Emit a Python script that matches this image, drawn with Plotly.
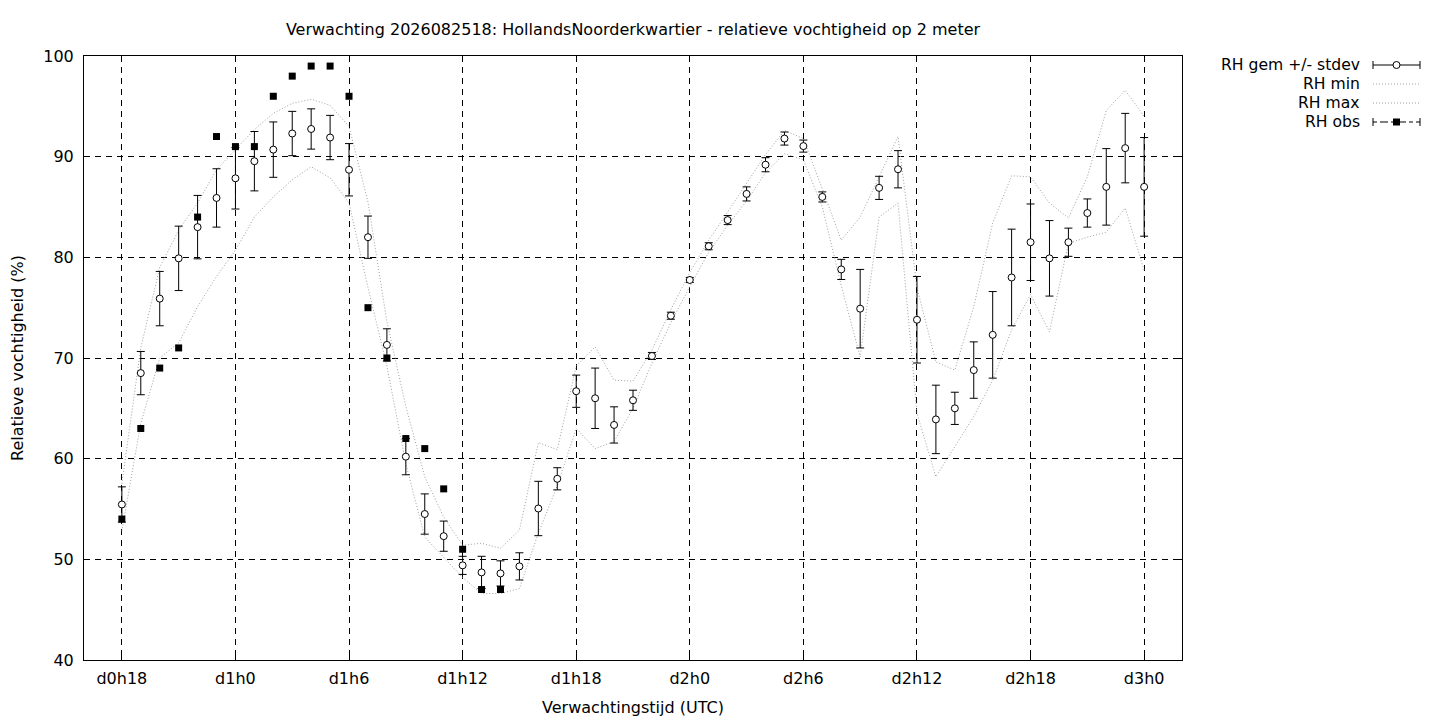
import plotly.graph_objects as go

hours = list(range(18, 73))

rh_mean = [55.45, 68.5, 75.9, 79.9, 83.0, 85.9, 87.85, 89.55, 90.7, 92.3,
           92.75, 91.9, 88.7, 82.0, 71.3, 60.2, 54.5, 52.3, 49.4, 48.7,
           48.6, 49.3, 55.05, 58.0, 66.7, 66.0, 63.35, 65.8, 70.2, 74.2,
           77.75, 81.1, 83.7, 86.3, 89.2, 91.8, 91.05, 86.0, 78.8, 74.9,
           86.9, 88.75, 73.8, 63.9, 65.0, 68.8, 72.3, 78.0, 81.5, 79.9,
           81.5, 84.4, 87.0, 90.85, 87.0]

rh_std = [1.75, 2.15, 2.7, 3.2, 3.15, 2.9, 3.05, 2.95, 2.75, 2.2,
          2.0, 2.2, 2.6, 2.1, 1.6, 1.8, 2.0, 1.5, 0.9, 1.6,
          1.25, 1.35, 2.7, 1.1, 1.6, 3.0, 1.8, 1.0, 0.35, 0.35,
          0.25, 0.35, 0.45, 0.7, 0.7, 0.65, 0.6, 0.5, 1.0, 3.9,
          1.15, 1.85, 4.3, 3.4, 1.6, 2.8, 4.3, 4.8, 3.8, 3.75,
          1.4, 1.4, 3.8, 3.45, 4.9]

rh_min = [52.8, 63.5, 70.0, 71.5, 75.1, 78.1, 80.7, 84.0, 86.0, 87.7,
          89.0, 87.9, 85.4, 77.0, 69.2, 59.5, 52.2, 50.2, 48.2, 46.6,
          46.6, 47.1, 52.6, 57.3, 63.0, 61.0, 61.7, 65.0, 69.5, 73.5,
          77.1, 80.5, 83.2, 85.6, 88.4, 90.3, 89.7, 85.0, 77.2, 70.1,
          84.0, 85.4, 64.5, 58.2, 61.2, 64.2, 67.8, 72.8, 76.3, 72.6,
          81.4, 82.0, 82.5, 84.9, 78.7]

rh_max = [57.5, 71.0, 79.0, 82.7, 85.4, 88.7, 90.7, 92.7, 94.3, 95.3,
          95.7, 95.1, 93.0, 85.5, 73.6, 65.2, 58.2, 54.2, 51.4, 51.6,
          51.1, 52.9, 61.6, 60.9, 69.2, 71.1, 67.8, 67.7, 70.8, 74.8,
          78.5, 81.7, 84.5, 87.3, 90.2, 92.6, 91.8, 86.8, 81.7, 84.0,
          88.0, 92.0, 77.0, 69.6, 68.8, 75.1, 83.4, 88.1, 88.0, 85.4,
          83.9, 88.0, 94.6, 96.6, 94.0]

obs_hours = list(range(18, 39))
rh_obs = [54, 63, 69, 71, 84, 92, 91, 91, 96, 98, 99, 99, 96, 75, 70, 62,
          61, 57, 51, 47, 47]

tick_vals = [18, 24, 30, 36, 42, 48, 54, 60, 66, 72]
tick_text = ["d0h18", "d1h0", "d1h6", "d1h12", "d1h18", "d2h0", "d2h6",
             "d2h12", "d2h18", "d3h0"]

legend_labels = ["RH gem +/- stdev", "RH min", "RH max", "RH obs"]

FONT = "DejaVu Sans"
FS = 16
GRAY = "#a0a0a0"
DOT = "1px,2px"

fig = go.Figure()

fig.add_trace(go.Scatter(x=hours, y=rh_min, mode="lines", name="RH min",
                         line=dict(color=GRAY, width=1, dash=DOT),
                         showlegend=False))
fig.add_trace(go.Scatter(x=hours, y=rh_max, mode="lines", name="RH max",
                         line=dict(color=GRAY, width=1, dash=DOT),
                         showlegend=False))
fig.add_trace(go.Scatter(x=hours, y=rh_mean, mode="markers",
                         name="RH gem +/- stdev",
                         marker=dict(symbol="circle", size=7, color="white",
                                     line=dict(color="black", width=1)),
                         error_y=dict(type="data", array=rh_std, visible=True,
                                      color="black", thickness=1, width=4),
                         showlegend=False))
fig.add_trace(go.Scatter(x=obs_hours, y=rh_obs, mode="markers",
                         name="RH obs",
                         marker=dict(symbol="square", size=7, color="black",
                                     line=dict(color="black", width=0)),
                         showlegend=False))

# page offset (body margin) of 8px
OFF = 8
L, R, B, T = 84, 1182, 660, 56   # target plot-area edges in the screenshot
W, H = R - L, B - T


def px(xp):
    return (xp - L) / W


def py(yp):
    return (B - yp) / H


rows_y = [65, 84, 103, 122]
x_text = 1362
x0s, x1s = 1373, 1420
xm = (x0s + x1s) / 2
shapes = []
annotations = []
for lab, yy in zip(legend_labels, rows_y):
    annotations.append(dict(x=px(x_text), y=py(yy), xref="paper", yref="paper",
                            text=lab, showarrow=False, xanchor="right",
                            yanchor="middle",
                            font=dict(family=FONT, size=15.6, color="black")))

y1 = rows_y[0]
shapes.append(dict(type="line", xref="paper", yref="paper", x0=px(x0s), x1=px(x1s),
                   y0=py(y1), y1=py(y1), line=dict(color="black", width=1)))
for xc in (x0s, x1s):
    shapes.append(dict(type="line", xref="paper", yref="paper", x0=px(xc), x1=px(xc),
                       y0=py(y1 - 4), y1=py(y1 + 4), line=dict(color="black", width=1)))
shapes.append(dict(type="circle", xref="paper", yref="paper",
                   x0=px(xm - 3.5), x1=px(xm + 3.5), y0=py(y1 + 3.5), y1=py(y1 - 3.5),
                   fillcolor="white", line=dict(color="black", width=1)))
for yy in rows_y[1:3]:
    shapes.append(dict(type="line", xref="paper", yref="paper", x0=px(x0s), x1=px(x1s),
                       y0=py(yy), y1=py(yy), line=dict(color=GRAY, width=1, dash=DOT)))
y4 = rows_y[3]
shapes.append(dict(type="line", xref="paper", yref="paper", x0=px(x0s), x1=px(x1s),
                   y0=py(y4), y1=py(y4), line=dict(color="black", width=1, dash="4px,3px,8px,3px")))
for xc in (x0s, x1s):
    shapes.append(dict(type="line", xref="paper", yref="paper", x0=px(xc), x1=px(xc),
                       y0=py(y4 - 4), y1=py(y4 + 4), line=dict(color="black", width=1)))
shapes.append(dict(type="rect", xref="paper", yref="paper",
                   x0=px(xm - 3.5), x1=px(xm + 3.5), y0=py(y4 + 3.5), y1=py(y4 - 3.5),
                   fillcolor="black", line=dict(color="black", width=0)))

axis_common = dict(showline=True, linecolor="black", linewidth=1, mirror="ticks",
                   ticks="inside", ticklen=6, tickcolor="black",
                   showgrid=True, gridcolor="black", gridwidth=1, griddash="6px,5px",
                   zeroline=False, automargin=False,
                   tickfont=dict(family=FONT, size=FS, color="black"))

fig.update_layout(
    width=1440, height=720,
    margin=dict(l=L - OFF, r=1440 - (R - OFF), t=T - OFF, b=720 - (B - OFF)),
    paper_bgcolor="white", plot_bgcolor="white",
    font=dict(family=FONT, size=FS, color="black"),
    title=dict(text="Verwachting 2026082518: HollandsNoorderkwartier - relatieve vochtigheid op 2 meter",
               x=0.5, xref="paper", y=1 - (29 - OFF) / 720, yref="container",
               xanchor="center", yanchor="middle",
               font=dict(family=FONT, size=FS, color="black")),
    xaxis=dict(range=[16, 74], tickvals=tick_vals, ticktext=tick_text,
               ticklabelstandoff=4,
               title=dict(text="Verwachtingstijd (UTC)", standoff=14,
                          font=dict(family=FONT, size=FS, color="black")),
               **axis_common),
    yaxis=dict(range=[40, 100], tickvals=[40, 50, 60, 70, 80, 90, 100],
               ticklabelstandoff=6,
               title=dict(text="Relatieve vochtigheid (%)", standoff=16,
                          font=dict(family=FONT, size=FS, color="black")),
               **axis_common),
    shapes=shapes,
    annotations=annotations,
    showlegend=False,
)

fig.write_html("out.html")
